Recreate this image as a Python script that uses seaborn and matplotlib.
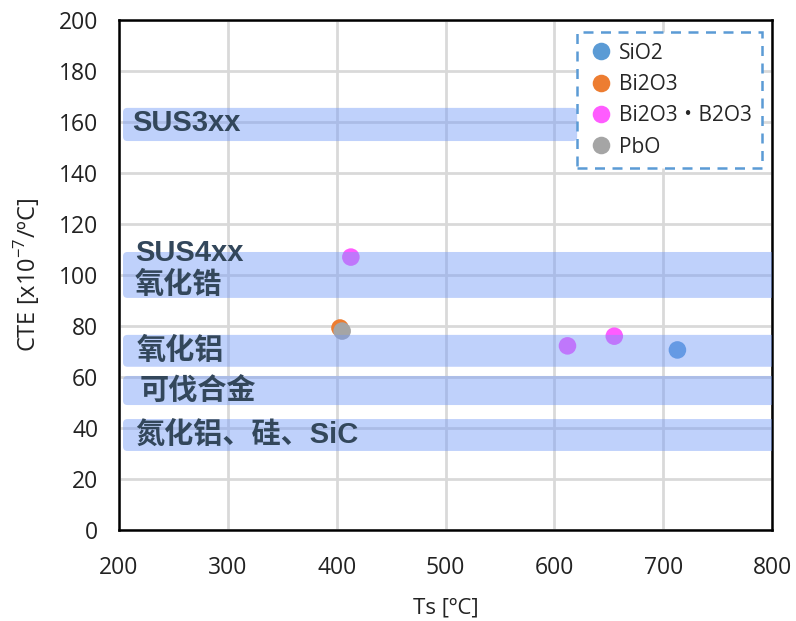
import matplotlib
matplotlib.use("Agg")
import matplotlib.pyplot as plt
import seaborn as sns
import pandas as pd
from matplotlib.patches import FancyBboxPatch

# ---- data ----
glass_types = ["SiO2", "Bi2O3", "Bi2O3・B2O3", "Bi2O3・B2O3", "Bi2O3・B2O3", "PbO"]
ts_values = [713, 403, 413, 612, 655, 405]
cte_values = [70.6, 79.2, 107, 72.2, 76.0, 78.0]
legend_order = ["SiO2", "Bi2O3", "Bi2O3・B2O3", "PbO"]
legend_colors = ["#5B9BD5", "#ED7D31", "#FF5CFF", "#A5A5A5"]

band_labels = ["SUS3xx", "SUS4xx\n氧化锆", "氧化铝", "可伐合金", "氮化铝、硅、SiC"]
band_low = [152.5, 91, 64, 49, 31]
band_high = [165.5, 109, 76.5, 60.4, 43.5]
band_start = [203.7, 203.7, 203.7, 203.7, 203.7]
band_end = [621, 820, 820, 820, 820]

x_ticks = [200, 300, 400, 500, 600, 700, 800]
y_ticks = [0, 20, 40, 60, 80, 100, 120, 140, 160, 180, 200]

sns.set_theme(style="white")
plt.rcParams["font.family"] = ["Open Sans", "Noto Sans CJK SC", "DejaVu Sans"]
plt.rcParams["mathtext.fontset"] = "custom"
plt.rcParams["mathtext.rm"] = "Open Sans"

fig = plt.figure(figsize=(7.96, 6.21), dpi=100)
ax = fig.add_axes([0.1495, 0.1465, 0.8205, 0.8215])

df = pd.DataFrame({"Ts": ts_values, "CTE": cte_values, "type": glass_types})
sns.scatterplot(data=df, x="Ts", y="CTE", hue="type", hue_order=legend_order,
                palette=dict(zip(legend_order, legend_colors)), s=160,
                edgecolor="none", linewidth=0, ax=ax, zorder=3)

# bands (drawn over points, translucent)
aspect = (1 / 2.55) / (1 / 1.088)
for lab, lo, hi, x0, x1 in zip(band_labels, band_low, band_high, band_start, band_end):
    p = FancyBboxPatch((x0, lo), x1 - x0, hi - lo,
                       boxstyle="round,pad=0,rounding_size=4",
                       mutation_aspect=aspect,
                       facecolor=(0.45, 0.6, 0.97), alpha=0.45,
                       edgecolor="none", zorder=4, transform=ax.transData)
    ax.add_patch(p)

text_kw = dict(color="#33475b", fontweight="bold", fontsize=21, zorder=5,
               va="center", ha="left",
               family=["Liberation Sans", "Noto Sans CJK SC"])
ax.text(212.5, 159.6, "SUS3xx", **text_kw)
ax.text(214.5, 108.6, "SUS4xx", **text_kw)
ax.text(214.5, 96.0, "氧化锆", **text_kw)
ax.text(216.5, 70.2, "氧化铝", **text_kw)
ax.text(219, 54.0, "可伐合金", **text_kw)
ax.text(214.5, 37.3, "氮化铝、硅、SiC", **text_kw)

ax.set_xlim(200, 800)
ax.set_ylim(0, 200)
ax.set_xticks(x_ticks)
ax.set_yticks(y_ticks)
ax.tick_params(labelsize=16.5, colors="#222222", length=0)
ax.tick_params(axis="x", pad=19)
ax.tick_params(axis="y", pad=15)
ax.grid(True, color="#d9d9d9", linewidth=2, zorder=0)
ax.set_axisbelow(True)
for sp in ax.spines.values():
    sp.set_color("black")
    sp.set_linewidth(1.8)
    sp.set_visible(True)

ax.set_xlabel("Ts [ºC]", fontsize=16, labelpad=12, color="#222222")
ax.set_ylabel("CTE [x10$^{-7}$/ºC]", fontsize=17, labelpad=12, color="#222222")

leg = ax.legend(loc="upper right", bbox_to_anchor=(0.985, 0.976), frameon=True,
                fontsize=15, handletextpad=0.2, borderpad=0.5, labelspacing=0.5,
                markerscale=1.0, handlelength=1.3, fancybox=False, borderaxespad=0)
fr = leg.get_frame()
fr.set_edgecolor("#5B9BD5")
fr.set_linestyle((0, (4, 3)))
fr.set_linewidth(1.8)
fr.set_facecolor("white")
fr.set_alpha(1)
leg.set_zorder(6)

fig.savefig("out.png", dpi=100)
